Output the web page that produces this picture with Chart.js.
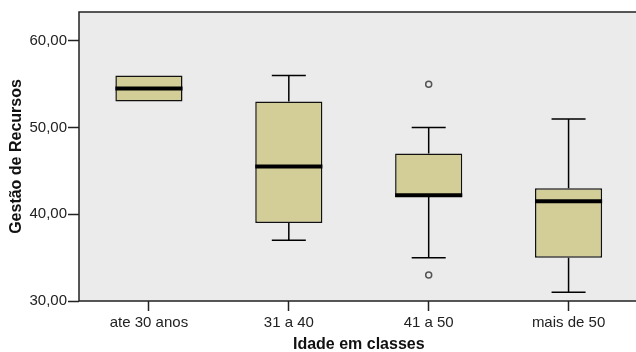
<!DOCTYPE html>
<html>
<head>
<meta charset="utf-8">
<script src="https://cdn.jsdelivr.net/npm/chart.js@4.4.1/dist/chart.umd.min.js"></script>
<style>
  body { margin: 0; background: #fff; overflow: hidden; }
  #chart { width: 636px; height: 352px; overflow: hidden; }
</style>
</head>
<body>
<div id="chart"><canvas width="644" height="352"></canvas></div>
<script>
const categories = ['ate 30 anos', '31 a 40', '41 a 50', 'mais de 50'];
const whiskerLow = [53, 37, 35, 31];
const q1 = [53, 39, 42, 35];
const median = [54.5, 45.5, 42.2, 41.5];
const q3 = [56, 53, 47, 43];
const whiskerHigh = [56, 56, 50, 51];
const outliers = [{x: '41 a 50', y: 55}, {x: '41 a 50', y: 33}];
const yTicks = [30, 40, 50, 60];

const boxFill = 'rgb(211,206,152)';
const plotBg = 'rgb(235,235,235)';

// background + frame + whiskers + medians
const boxPlugin = {
  id: 'boxPlugin',
  beforeDatasetsDraw(chart) {
    let ctx = chart.ctx, a = chart.chartArea;
    let xs = chart.scales.x, ys = chart.scales.y;
    ctx.save();
    ctx.fillStyle = plotBg;
    ctx.fillRect(a.left, a.top, a.right - a.left, a.bottom - a.top);
    ctx.strokeStyle = '#000';
    ctx.lineWidth = 1.5;
    for (let i = 0; i < categories.length; i++) {
      let x = xs.getPixelForValue(i);
      let caps = [[q3[i], whiskerHigh[i]], [q1[i], whiskerLow[i]]];
      for (let [from, to] of caps) {
        if (from === to) continue;
        let y0 = ys.getPixelForValue(from), y1 = ys.getPixelForValue(to);
        ctx.beginPath();
        ctx.moveTo(x, y0); ctx.lineTo(x, y1);
        ctx.moveTo(x - 17, y1); ctx.lineTo(x + 17, y1);
        ctx.stroke();
      }
    }
    ctx.restore();
  },
  afterDatasetsDraw(chart) {
    let ctx = chart.ctx, a = chart.chartArea;
    let ys = chart.scales.y;
    let bars = chart.getDatasetMeta(0).data;
    ctx.save();
    ctx.strokeStyle = '#000';
    ctx.lineWidth = 4;
    bars.forEach((b, i) => {
      let y = ys.getPixelForValue(median[i]);
      ctx.beginPath();
      ctx.moveTo(b.x - b.width / 2, y);
      ctx.lineTo(b.x + b.width / 2, y);
      ctx.stroke();
    });
    ctx.strokeStyle = '#222';
    ctx.lineWidth = 1.5;
    ctx.strokeRect(a.left, a.top, a.right - a.left, a.bottom - a.top);
    ctx.restore();
  }
};

let ctx = document.querySelector('#chart canvas').getContext('2d');

new Chart(ctx, {
  type: 'bar',
  data: {
    labels: categories,
    datasets: [{
      data: q1.map((v, i) => [v, q3[i]]),
      backgroundColor: boxFill,
      borderColor: '#111',
      borderWidth: 1.5,
      borderSkipped: false,
      barPercentage: 0.48,
      categoryPercentage: 1
    }, {
      type: 'line',
      data: outliers,
      showLine: false,
      pointRadius: 3,
      pointBorderWidth: 1.5,
      pointBorderColor: '#555',
      pointBackgroundColor: plotBg
    }]
  },
  options: {
    responsive: false,
    animation: false,
    events: [],
    layout: { padding: { top: 12, right: 1, left: 0, bottom: 0 } },
    plugins: { legend: { display: false }, tooltip: { enabled: false } },
    scales: {
      x: {
        grid: { offset: false, drawOnChartArea: false, tickLength: 10, tickColor: '#222', tickWidth: 1.5 },
        border: { display: false },
        ticks: { color: '#222', padding: 3, font: { family: 'Liberation Sans', size: 15 } },
        title: {
          display: true, text: 'Idade em classes', color: '#111',
          font: { family: 'Liberation Sans', size: 16, weight: 'bold', lineHeight: 1 },
          padding: { top: 0, bottom: -1 }
        },
        afterFit(scale) { scale.height = 51; }
      },
      y: {
        min: 30,
        max: 63.33,
        grid: { drawOnChartArea: false, tickLength: 11, tickColor: '#222', tickWidth: 1.5 },
        border: { display: false },
        ticks: {
          color: '#222', padding: 1,
          font: { family: 'Liberation Sans', size: 15 },
          callback: (v) => v.toFixed(2).replace('.', ',')
        },
        afterBuildTicks(scale) { scale.ticks = yTicks.map((v) => ({value: v})); },
        title: {
          display: true, text: 'Gestão de Recursos', color: '#111',
          font: { family: 'Liberation Sans', size: 16, weight: 'bold', lineHeight: 1 },
          padding: { top: 9, bottom: 0 }
        },
        afterFit(scale) { scale.width = 79; }
      }
    }
  },
  plugins: [boxPlugin]
});
</script>
</body>
</html>
